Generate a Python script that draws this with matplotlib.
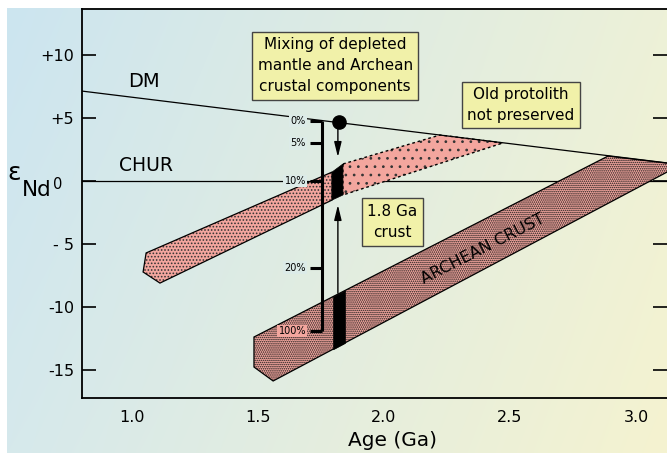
import numpy as np
import matplotlib
matplotlib.use('Agg')
import matplotlib.pyplot as plt
from matplotlib.patches import Polygon
from matplotlib.transforms import ScaledTranslation

plt.rcParams['font.family'] = ['DejaVu Sans']
plt.rcParams['hatch.linewidth'] = 0.75

W, H = 667, 455

# ---------------- data ----------------
x_ticks = [1.0, 1.5, 2.0, 2.5, 3.0]
x_ticklabels = ['1.0', '1.5', '2.0', '2.5', '3.0']
y_ticks = [10, 5, 0, -5, -10, -15]
y_ticklabels = ['+10', '+5', '0', '- 5', '-10', '-15']

dm_age = [0.80, 3.125]
dm_eps = [7.14, 1.43]
chur_eps = 0.0

band18_solid_age = [1.056, 1.044, 1.111, 1.794, 1.794]
band18_solid_eps = [-5.71, -7.22, -8.10, -1.51, 0.71]
band18_bar_age = [1.794, 1.794, 1.837, 1.837]
band18_bar_eps = [0.71, -1.51, -1.11, 1.35]
band18_old_age = [1.837, 1.837, 2.472, 2.222]
band18_old_eps = [1.35, -1.11, 3.02, 3.65]

archean_age = [2.889, 1.484, 1.484, 1.560, 3.178]
archean_eps = [1.98, -12.38, -14.76, -15.87, 1.29]
archean_bar_age = [1.798, 1.845]
archean_bar_top = [-9.17, -8.69]
archean_bar_bottom = [-13.35, -12.85]

mix_age = 1.754
mix_pct_labels = ['0%', '5%', '10%', '20%', '100%']
mix_pct_eps = [4.76, 3.0, 0.0, -6.9, -11.9]

dot_age, dot_eps = 1.821, 4.72
arrow_age = 1.817
arrow_down_eps = [4.2, 1.9]
arrow_up_eps = [-8.9, -1.9]

# ---------------- figure ----------------
fig = plt.figure(figsize=(W / 100, H / 100), dpi=100)
fig.patch.set_facecolor('white')

# background gradient
bg = fig.add_axes([7 / W, 2 / H, 660 / W, 445 / H], zorder=0)
tl = np.array([204, 229, 240]) / 255
tr = np.array([237, 241, 216]) / 255
bl = np.array([214, 233, 236]) / 255
br = np.array([245, 243, 208]) / 255
u = np.linspace(0, 1, 200)[None, :, None]
v = np.linspace(0, 1, 120)[:, None, None]
img = (1 - u) * (1 - v) * tl + u * (1 - v) * tr + (1 - u) * v * bl + u * v * br
bg.imshow(img, aspect='auto', interpolation='bilinear', extent=[0, 1, 0, 1])
bg.axis('off')

ax = fig.add_axes([82 / W, 1 - 398 / H, 585 / W, 389 / H], zorder=1)
ax.patch.set_alpha(0)
ax.set_xlim(0.8016, 3.123)
ax.set_ylim(-17.22, 13.65)

for s in ['left', 'top', 'bottom']:
    ax.spines[s].set_linewidth(1.3)
ax.spines['right'].set_visible(False)

ax.set_xticks(x_ticks, x_ticklabels)
ax.set_yticks(y_ticks, y_ticklabels)
ax.tick_params(axis='x', length=0, pad=9, labelsize=11.5)
ax.tick_params(axis='y', direction='in', length=10, width=1.2, left=True,
               right=True, labelsize=11.5, pad=5.5)
zt = ax.yaxis.get_major_ticks()[2]
zt.label1.set_fontsize(10.5)
zt.label1.set_transform(zt.label1.get_transform() +
                        ScaledTranslation(-0.12, -0.02, fig.dpi_scale_trans))

ax.set_xlabel('Age (Ga)', fontsize=14.5, va='center')
ax.xaxis.set_label_coords((392 - 82) / 585, (398 - 441) / 389)

fig.text(7 / W, 1 - 180 / H, 'ε', fontsize=18, va='baseline')
fig.text(22 / W, 1 - 196 / H, 'Nd', fontsize=15.5, va='baseline')

# reference lines
ax.axhline(chur_eps, color='black', lw=0.9, zorder=1)
ax.plot(dm_age, dm_eps, color='black', lw=0.9, zorder=5)

pink = '#f3a69e'
# Archean crust band
ax.add_patch(Polygon(np.column_stack([archean_age, archean_eps]), closed=True,
                     facecolor=pink, edgecolor='#1a1a1a', lw=0, hatch='........',
                     zorder=2))
ax.add_patch(Polygon(np.column_stack([archean_age, archean_eps]), closed=True,
                     facecolor='none', edgecolor='black', lw=0.9, zorder=2.1))
# 1.8 Ga crust band
ax.add_patch(Polygon(np.column_stack([band18_solid_age, band18_solid_eps]), closed=True,
                     facecolor=pink, edgecolor='#333333', lw=0, hatch='.....',
                     zorder=2))
ax.add_patch(Polygon(np.column_stack([band18_solid_age, band18_solid_eps]), closed=True,
                     facecolor='none', edgecolor='black', lw=0.9, zorder=2.1))
ax.add_patch(Polygon(np.column_stack([band18_old_age, band18_old_eps]), closed=True,
                     facecolor=pink, edgecolor='#333333', lw=0, hatch='..',
                     zorder=2))
ax.add_patch(Polygon(np.column_stack([band18_old_age, band18_old_eps]), closed=True,
                     facecolor='none', edgecolor='black', lw=1.0, ls=(0, (2, 2)),
                     zorder=2.1))
# black 1.8 Ga bars
ax.add_patch(Polygon(np.column_stack([band18_bar_age, band18_bar_eps]), closed=True,
                     facecolor='black', edgecolor='black', lw=0.5, zorder=3))
ax.fill_between(archean_bar_age, archean_bar_bottom, archean_bar_top,
                color='black', lw=0.5, zorder=3)

# mixing scale
ax.plot([mix_age, mix_age], [mix_pct_eps[0], mix_pct_eps[-1]], color='black',
        lw=2.2, zorder=6, solid_capstyle='butt')
for lbl, e in zip(mix_pct_labels, mix_pct_eps):
    ax.plot([mix_age - 0.048, mix_age], [e, e], color='black', lw=2.2, zorder=6,
            solid_capstyle='butt')
    fc = pink if lbl == '100%' else '#dcebe8'
    ax.annotate(lbl, (mix_age, e), xytext=(-11.5, 0), textcoords='offset points',
                ha='right', va='center', fontsize=7, zorder=6,
                bbox=dict(boxstyle='square,pad=0.15', fc=fc, ec='none'))

# dot and arrows
ax.plot(dot_age, dot_eps, 'o', ms=9.5, color='black', zorder=7)
arrow_style = '-|>,head_length=0.9,head_width=0.22'
ax.annotate('', xy=(arrow_age, arrow_down_eps[1]), xytext=(arrow_age, arrow_down_eps[0]),
            arrowprops=dict(arrowstyle=arrow_style, lw=1.0, color='black',
                            shrinkA=0, shrinkB=0), zorder=7)
ax.annotate('', xy=(arrow_age, arrow_up_eps[1]), xytext=(arrow_age, arrow_up_eps[0]),
            arrowprops=dict(arrowstyle=arrow_style, lw=1.0, color='black',
                            shrinkA=0, shrinkB=0), zorder=7)

# labels
ax.text(0.984, 7.86, 'DM', fontsize=14, ha='left', va='center', zorder=8)
ax.text(0.948, 1.27, 'CHUR', fontsize=13.5, ha='left', va='center', zorder=8)
ax.text(2.393, -5.40, 'ARCHEAN CRUST', fontsize=11.5, ha='center', va='center',
        rotation=27, rotation_mode='anchor', zorder=8)

box = dict(boxstyle='square,pad=0.35', fc='#f1f1a9', ec='#444444', lw=1.0)
ax.text(1.806, 9.13, 'Mixing of depleted\nmantle and Archean\ncrustal components',
        fontsize=11, ha='center', va='center', multialignment='center',
        linespacing=1.5, bbox=box, zorder=9)
ax.text(2.544, 6.03, 'Old protolith\nnot preserved', fontsize=11, ha='center',
        va='center', multialignment='center', linespacing=1.5, bbox=box, zorder=9)
ax.text(2.032, -3.25, '1.8 Ga\ncrust', fontsize=11, ha='center', va='center',
        multialignment='center', linespacing=1.55, bbox=box, zorder=9)

fig.savefig('out.png', dpi=100)
